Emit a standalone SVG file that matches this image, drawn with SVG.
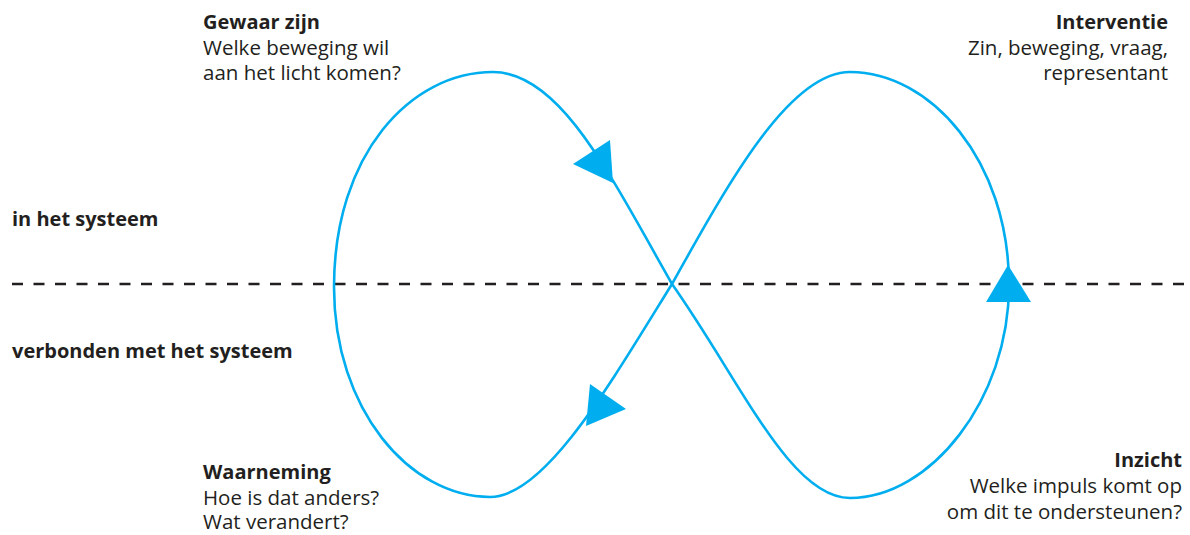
<svg xmlns="http://www.w3.org/2000/svg" width="1190" height="535" viewBox="0 0 1190 535">
<style>
text{font-family:"Open Sans","Noto Sans",sans-serif;font-size:20.5px;fill:#231f20}
.b{font-weight:bold;font-size:20px}
.r{text-anchor:end}
.curve{fill:none;stroke:#00aeef;stroke-width:2.6}
.arr{fill:#00aeef}
.dash{stroke:#231f20;stroke-width:2.6;stroke-dasharray:11 10.5}
</style>
<rect width="1190" height="535" fill="#fff"/>
<g id="axis">
<line class="dash" x1="12" y1="284" x2="1190" y2="284"/>
<text id="in-systeem" class="b" x="12" y="226">in het systeem</text>
<text id="verbonden" class="b" x="12" y="358">verbonden met het systeem</text>
</g>
<g id="connectors">
<path class="curve" d="M672,284 C610,175 560,72 493,72 C410,72 334,155 334,287 C334,410 410,497 490,497 C545,497 610,384 672,284 C730,180 790,72 850,72 C930,72 1009,160 1009,285 C1009,400 930,498 850,498 C790,498 740,380 672,284 Z"/>
<polygon class="arr" points="573,164 610,140 613,183"/>
<polygon class="arr" points="590,384 626,409 586,426"/>
<polygon class="arr" points="986,302 1031,302 1008,265"/>
</g>
<g id="gewaar">
<text class="b" x="203" y="29">Gewaar zijn</text>
<text x="203" y="55">Welke beweging wil</text>
<text x="203" y="80">aan het licht komen?</text>
</g>
<g id="interventie">
<text class="b r" x="1168" y="29">Interventie</text>
<text class="r" x="1168" y="55">Zin, beweging, vraag,</text>
<text class="r" x="1168" y="80">representant</text>
</g>
<g id="waarneming">
<text class="b" x="203" y="479">Waarneming</text>
<text x="203" y="505">Hoe is dat anders?</text>
<text x="203" y="529">Wat verandert?</text>
</g>
<g id="inzicht">
<text class="b r" x="1182" y="467">Inzicht</text>
<text class="r" x="1182" y="493">Welke impuls komt op</text>
<text class="r" x="1182" y="519">om dit te ondersteunen?</text>
</g>
</svg>
